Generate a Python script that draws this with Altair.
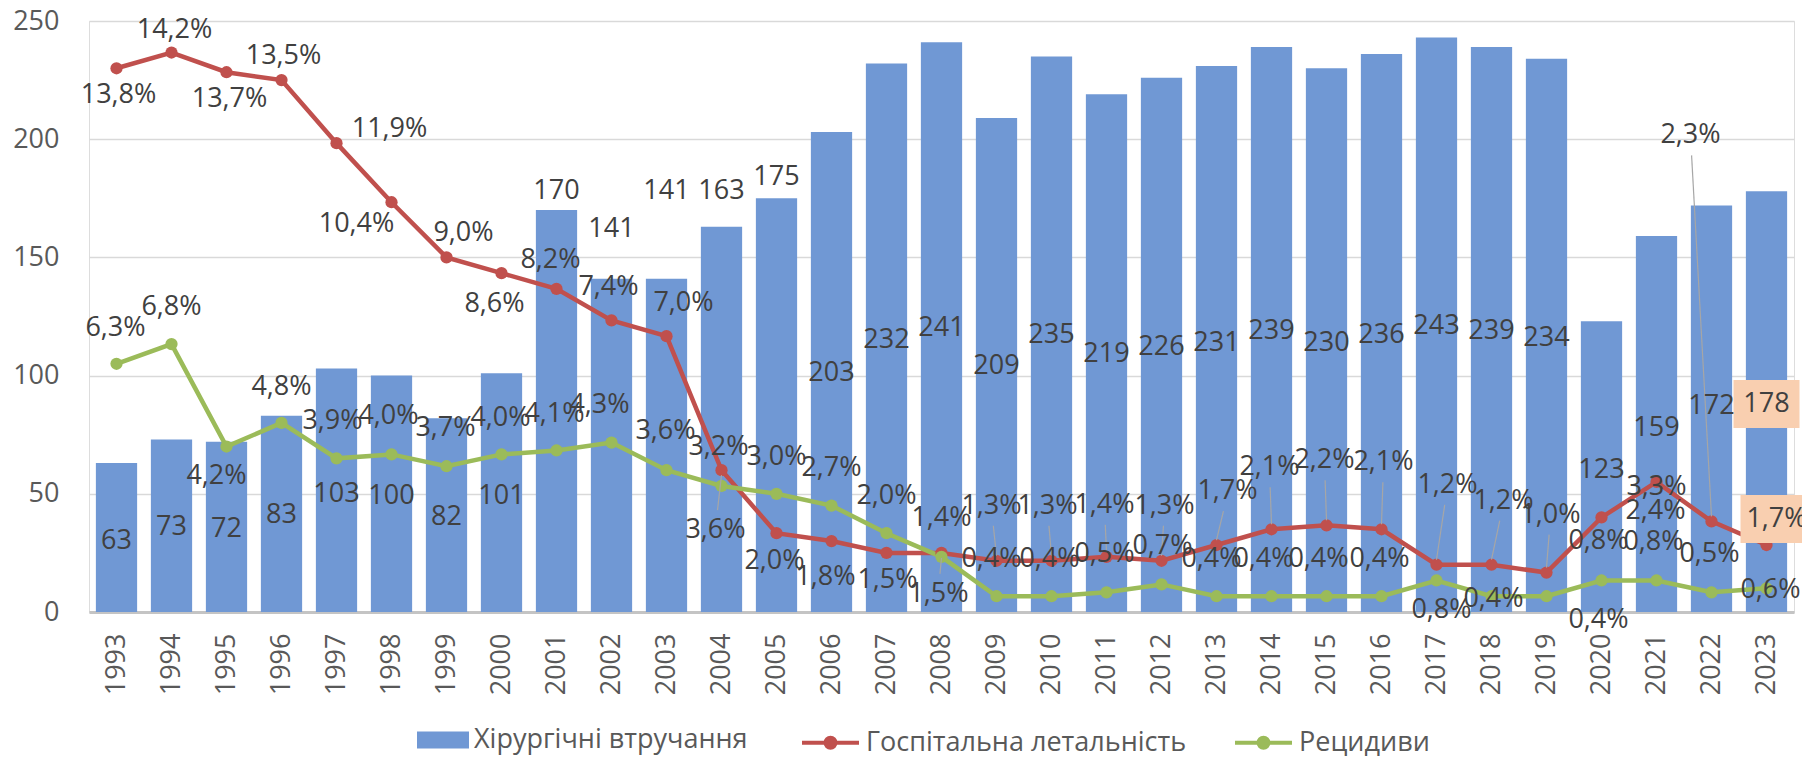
import altair as alt
import pandas as pd

# ---------------- data ----------------
years = list(range(1993, 2024))
surgeries = [63, 73, 72, 83, 103, 100, 82, 101, 170, 141, 141, 163, 175, 203, 232, 241,
             209, 235, 219, 226, 231, 239, 230, 236, 243, 239, 234, 123, 159, 172, 178]
mortality = [13.8, 14.2, 13.7, 13.5, 11.9, 10.4, 9.0, 8.6, 8.2, 7.4, 7.0, 3.6, 2.0, 1.8,
             1.5, 1.5, 1.3, 1.3, 1.4, 1.3, 1.7, 2.1, 2.2, 2.1, 1.2, 1.2, 1.0, 2.4, 3.3, 2.3, 1.7]
relapses = [6.3, 6.8, 4.2, 4.8, 3.9, 4.0, 3.7, 4.0, 4.1, 4.3, 3.6, 3.2, 3.0, 2.7, 2.0, 1.4,
            0.4, 0.4, 0.5, 0.7, 0.4, 0.4, 0.4, 0.4, 0.8, 0.4, 0.4, 0.8, 0.8, 0.5, 0.6]

series_names = ["Хірургічні втручання", "Госпітальна летальність", "Рецидиви"]

# ---------------- label placement (layout, not data) ----------------
# bar value labels: height of label centre in axis units
bar_label_at = [30, 36, 35, 41, 50, 49, 40, 49, 178, 162, 178, 178, 184, 101, 115, 120,
                104, 117, 109, 112, 114, 119, 114, 117, 121, 119, 116, 60, 78, 87, 88]
# percent labels: pixel offsets (dx, dy) from their point
red_dx = [2, 3, 3, 2, 53, -35, 17, -7, -6, -3, 17, -6, -2, -6, 1, -3, -5, -4, -2, 3, 11,
          -2, -2, 2, 11, 12, 4, 54, 0, -21, 10]
red_dy = [27, -23, 27, -24, -14, 22, -24, 31, -29, -33, -33, 60, 28, 36, 27, 41, -55, -55,
          -52, -55, -54, -62, -65, -67, -80, -64, -58, -6, 5, -386, -26]
green_dx = [-1, 0, -10, 0, -4, -3, -1, -1, -2, -12, -1, -3, 0, 0, 0, 0, -5, -2, -2, 1, -5,
            -8, -8, -2, 5, 2, 52, -3, -3, -2, 4]
green_dy = [-36, -37, 29, -36, -37, -38, -38, -36, -36, -38, -39, -39, -37, -38, -37, -39,
            -37, -37, -38, -38, -37, -37, -37, -37, 30, 3, 24, -39, -38, -38, 2]

# ---------------- styling ----------------
W, H = 1705, 591
N = len(years)
STEP = W / N
PX_PCT = H / 15.0
PX_CNT = H / 250.0
BLUE = "#7098D4"
RED = "#C0504D"
GREEN = "#9BBB59"
PEACH = "#F9CFB0"
TXT = "#404040"
AX = "#595959"
FONT = "Open Sans"


def fmt(v):
    return f"{v:.1f}".replace(".", ",") + "%"


bar_df = pd.DataFrame({
    "year": years,
    "n": surgeries,
    "idx": list(range(N)),
    "lab_y": bar_label_at,
    "label": [str(v) for v in surgeries],
    "series": series_names[0],
})

line_rows, label_rows, leader_rows = [], [], []
for name, vals, dxs, dys in [(series_names[1], mortality, red_dx, red_dy),
                             (series_names[2], relapses, green_dx, green_dy)]:
    for i, (v, dx, dy) in enumerate(zip(vals, dxs, dys)):
        line_rows.append({"idx": i, "pct": v, "series": name})
        label_rows.append({"series": name, "lx": i + dx / STEP, "ly": v - dy / PX_PCT,
                           "label": fmt(v)})
        if name == series_names[1] and abs(dy) >= 40:
            s = 1 if dy > 0 else -1
            ex = dx * (abs(dy) - 20) / abs(dy)
            ey = dy - s * 20
            leader_rows.append({"x1": i, "y1": v - (s * 5) / PX_PCT,
                                "x2": i + ex / STEP, "y2": v - ey / PX_PCT})
line_df = pd.DataFrame(line_rows)
lab_df = pd.DataFrame(label_rows)
lead_df = pd.DataFrame(leader_rows)

# highlighted (peach) labels: last bar label and last mortality label
last = N - 1
box_cnt = pd.DataFrame([{
    "x1": last - 33 / STEP, "x2": last + 33 / STEP,
    "y1": bar_label_at[last] - 24 / PX_CNT, "y2": bar_label_at[last] + 24 / PX_CNT}])
rl = label_rows[last]
box_pct = pd.DataFrame([{
    "x1": rl["lx"] - 36 / STEP, "x2": rl["lx"] + 36 / STEP,
    "y1": rl["ly"] - 24 / PX_PCT, "y2": rl["ly"] + 24 / PX_PCT}])

XQ = alt.Scale(domain=[-0.5, N - 0.5], nice=False, zero=False)
YP = alt.Scale(domain=[0, 15], nice=False)
YC = alt.Scale(domain=[0, 250], nice=False)

line_symbol = ("M-1,0H1"
               "M-0.175,0A0.175,0.175,0,1,0,0.175,0A0.175,0.175,0,1,0,-0.175,0"
               "M-0.053,0A0.053,0.053,0,1,0,0.053,0A0.053,0.053,0,1,0,-0.053,0")

bars = alt.Chart(bar_df).mark_bar().encode(
    x=alt.X("year:O", title=None,
            scale=alt.Scale(paddingInner=0.25, paddingOuter=0.125),
            axis=alt.Axis(labelAngle=270, labelFontSize=27, labelColor=AX, labelFont=FONT,
                          labelPadding=21, ticks=False, domainColor="#C4C4C4",
                          domainWidth=3, grid=False)),
    y=alt.Y("n:Q", title=None, scale=YC,
            axis=alt.Axis(values=[0, 50, 100, 150, 200, 250], labelFontSize=27,
                          labelColor=AX, labelFont=FONT, labelPadding=30, ticks=False,
                          domain=False, gridColor="#D9D9D9", gridWidth=1.5)),
    color=alt.Color("series:N", scale=alt.Scale(domain=[series_names[0]], range=[BLUE]),
                    legend=alt.Legend(title=None, orient="none", legendX=328, legendY=693,
                                      symbolType="M-1,-0.33H1V0.33H-1Z", symbolSize=2704,
                                      symbolStrokeWidth=0, labelFontSize=27, labelFont=FONT,
                                      labelColor=AX, labelOffset=5, labelLimit=600,
                                      padding=0)),
)

lines = alt.Chart(line_df).mark_line(strokeWidth=4.5).encode(
    x=alt.X("idx:Q", scale=XQ, axis=None),
    y=alt.Y("pct:Q", scale=YP, axis=None),
    stroke=alt.Stroke("series:N",
                      scale=alt.Scale(domain=series_names[1:], range=[RED, GREEN]),
                      legend=alt.Legend(title=None, orient="none", legendX=711, legendY=691,
                                        direction="horizontal", symbolType=line_symbol,
                                        symbolSize=3249, symbolStrokeWidth=4,
                                        labelFontSize=27, labelFont=FONT, labelColor=AX,
                                        labelOffset=5, labelLimit=600, columnPadding=40,
                                        padding=0)),
    order="idx:Q",
)

points = alt.Chart(line_df).mark_circle(size=150, opacity=1).encode(
    x=alt.X("idx:Q", scale=XQ, axis=None),
    y=alt.Y("pct:Q", scale=YP, axis=None),
    fill=alt.Fill("series:N", scale=alt.Scale(domain=series_names[1:], range=[RED, GREEN]),
                  legend=None),
)

leaders = alt.Chart(lead_df).mark_rule(color="#A6A6A6", strokeWidth=1.2).encode(
    x=alt.X("x1:Q", scale=XQ, axis=None), x2="x2:Q",
    y=alt.Y("y1:Q", scale=YP, axis=None), y2="y2:Q",
)

rect_cnt = alt.Chart(box_cnt).mark_rect(color=PEACH).encode(
    x=alt.X("x1:Q", scale=XQ, axis=None), x2="x2:Q",
    y=alt.Y("y1:Q", scale=YC, axis=None), y2="y2:Q",
)
rect_pct = alt.Chart(box_pct).mark_rect(color=PEACH).encode(
    x=alt.X("x1:Q", scale=XQ, axis=None), x2="x2:Q",
    y=alt.Y("y1:Q", scale=YP, axis=None), y2="y2:Q",
)

bar_text = alt.Chart(bar_df).mark_text(fontSize=27, font=FONT, color=TXT,
                                       baseline="middle", align="center").encode(
    x=alt.X("idx:Q", scale=XQ, axis=None),
    y=alt.Y("lab_y:Q", scale=YC, axis=None),
    text="label:N",
)

pct_text = alt.Chart(lab_df).mark_text(fontSize=27, font=FONT, color=TXT,
                                       baseline="middle", align="center").encode(
    x=alt.X("lx:Q", scale=XQ, axis=None),
    y=alt.Y("ly:Q", scale=YP, axis=None),
    text="label:N",
)

chart = alt.layer(
    bars, lines, points, leaders, rect_cnt, rect_pct, bar_text, pct_text
).resolve_scale(
    x="independent", y="independent"
).properties(
    width=W, height=H,
    autosize=alt.AutoSizeParams(type="none"),
    padding={"left": 81, "top": 13, "right": 8, "bottom": 147},
).configure_view(stroke=None).configure(background="white")

chart.save("out.html", embed_options={"renderer": "svg", "actions": False})
